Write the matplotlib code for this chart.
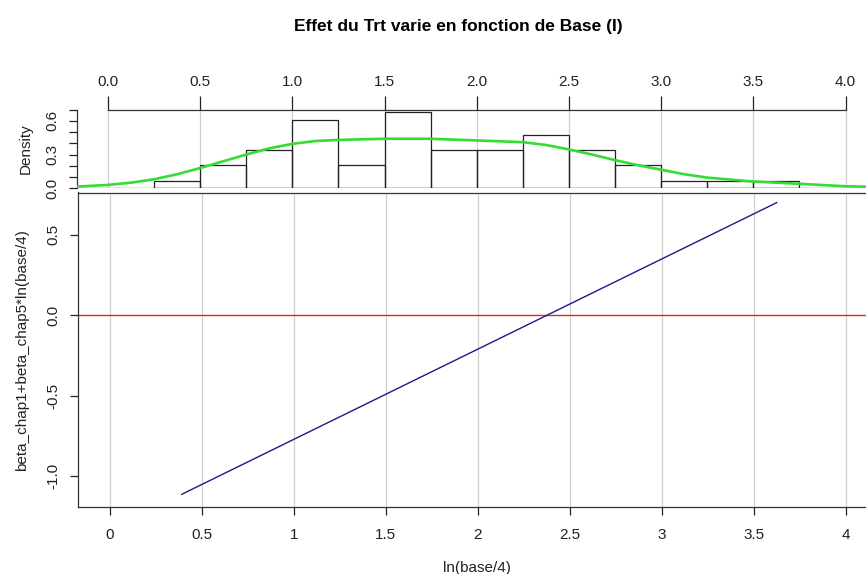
import numpy as np
import matplotlib
matplotlib.use("Agg")
import matplotlib.pyplot as plt

plt.rcParams['font.family'] = ['Liberation Sans', 'DejaVu Sans']

# histogram of ln(base/4) (density scale), bins of width 0.25
bin_edges = [0.25, 0.5, 0.75, 1.0, 1.25, 1.5, 1.75, 2.0, 2.25, 2.5, 2.75, 3.0, 3.25, 3.5, 3.75]
bin_density = [0.068, 0.203, 0.339, 0.610, 0.203, 0.678, 0.339, 0.339, 0.475, 0.339, 0.203, 0.068, 0.068, 0.068]

# kernel density curve
kde_x = [-0.17, 0.0, 0.125, 0.25, 0.375, 0.5, 0.625, 0.75, 0.875, 1.0, 1.125, 1.25, 1.5, 1.75,
         2.0, 2.25, 2.375, 2.5, 2.625, 2.75, 2.875, 3.0, 3.125, 3.25, 3.5, 3.75, 4.0, 4.17]
kde_y = [0.015, 0.03, 0.05, 0.08, 0.125, 0.18, 0.24, 0.30, 0.355, 0.395, 0.42, 0.43, 0.44, 0.44,
         0.425, 0.41, 0.385, 0.345, 0.30, 0.25, 0.205, 0.165, 0.125, 0.095, 0.06, 0.04, 0.018, 0.012]

# effect line  beta_chap1 + beta_chap5*ln(base/4)
eff_x = [0.39, 3.625]
eff_y = [-1.114, 0.701]

top_ticks = [0.0, 0.5, 1.0, 1.5, 2.0, 2.5, 3.0, 3.5, 4.0]
top_labels = ["0.0", "0.5", "1.0", "1.5", "2.0", "2.5", "3.0", "3.5", "4.0"]
bot_labels = ["0", "0.5", "1", "1.5", "2", "2.5", "3", "3.5", "4"]

W, H = 866, 574
fig = plt.figure(figsize=(W / 100, H / 100), dpi=100)

def box(l, t, r, b):
    return [l / W, 1 - b / H, (r - l) / W, (b - t) / H]

gridcol = '#cfcfcf'

# ---- bottom panel
axb = fig.add_axes(box(78, 192.5, 876, 507))
axb.set_xlim(-0.174, 4.165)
axb.set_ylim(-1.193, 0.764)
axb.set_xticks(top_ticks)
axb.set_xticklabels(bot_labels)
axb.set_yticks([-1.0, -0.5, 0.0, 0.5])
axb.set_yticklabels(["-1.0", "-0.5", "0.0", "0.5"], rotation=90, va='center')
axb.tick_params(axis='both', direction='out', length=6, width=0.9, labelsize=11, colors='#222222')
axb.tick_params(axis='x', pad=9)
axb.tick_params(axis='y', pad=7)
axb.grid(axis='x', color=gridcol, lw=0.9)
axb.set_axisbelow(True)
for s in axb.spines.values():
    s.set_linewidth(0.9)
    s.set_color('#333333')
axb.axhline(0, color='#ee2222', lw=1.0)
axb.plot(eff_x, eff_y, color='#1a1a8c', lw=1.0)
axb.set_xlabel("ln(base/4)", fontsize=11, labelpad=14, color='#222222')
axb.set_ylabel("beta_chap1+beta_chap5*ln(base/4)", fontsize=11, labelpad=12, color='#222222')

# ---- top panel (histogram + density)
axt = fig.add_axes(box(77, 109.5, 876, 188.3))
axt.set_xlim(-0.168, 4.165)
axt.set_ylim(0, 0.7)
for s in axt.spines.values():
    s.set_visible(False)
axt.set_xticks(top_ticks)
axt.set_xticklabels(top_labels)
axt.xaxis.tick_top()
axt.tick_params(axis='x', direction='out', length=10, width=0.9, pad=5, labelsize=11, colors='#222222')
axt.set_yticks(np.arange(0, 0.71, 0.1))
axt.set_yticklabels(["0.0", "", "", "0.3", "", "", "0.6", ""], rotation=90, va='center')
axt.tick_params(axis='y', direction='out', length=6, width=0.9, pad=7, labelsize=11, colors='#222222')
axt.grid(axis='x', color=gridcol, lw=0.9)
axt.set_axisbelow(True)
axt.plot([0, 4], [0.7, 0.7], color='#333333', lw=0.9, clip_on=False)
axt.plot([-0.168, -0.168], [0, 0.7], color='#333333', lw=0.9, clip_on=False)
axt.axhline(0, color='#222222', lw=0.9)
axt.bar(bin_edges[:-1], bin_density, width=0.25, align='edge', fill=False,
        edgecolor='#222222', lw=0.9)
axt.plot(kde_x, kde_y, color='#33dd33', lw=1.9)
axt.set_ylabel("Density", fontsize=11, labelpad=9, color='#222222')

fig.text(458 / W, 1 - 26 / H, "Effet du Trt varie en fonction de Base (I)",
         ha='center', va='center', fontsize=12.5, fontweight='bold')

fig.savefig("out.png", dpi=100)
